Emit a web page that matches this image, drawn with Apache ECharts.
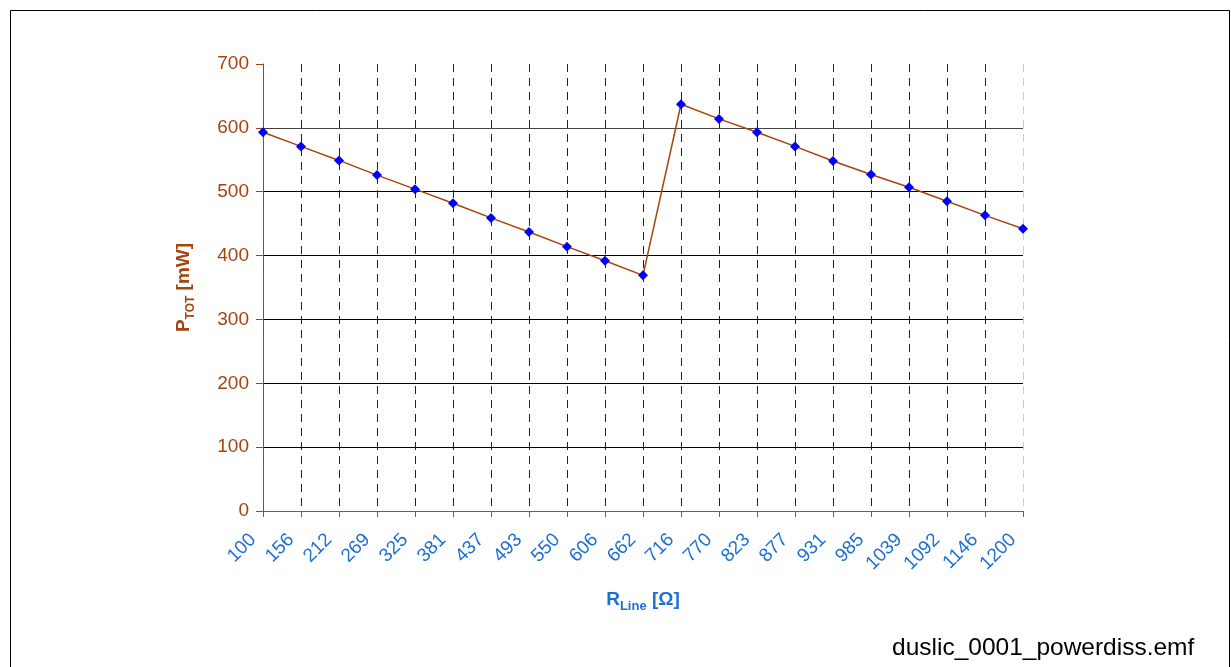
<!DOCTYPE html>
<html><head><meta charset="utf-8">
<script src="https://cdn.jsdelivr.net/npm/echarts@6/dist/echarts.min.js"></script>
<style>html,body{margin:0;padding:0;background:#fff}#c{width:1231px;height:667px}</style>
</head><body><div id="c"></div>
<script>
const categories = ['100','156','212','269','325','381','437','493','550','606','662','716','770','823','877','931','985','1039','1092','1146','1200'];
const ptot = [593,571,549,526,504,482,459,437,414,392,369,637,614,593,571,548,527,507,485,463,442];
const yTicks = [0,100,200,300,400,500,600,700];

const brown = '#A5440F';
const blue = '#1C6FD3';
const vColors = categories.map((c,i)=> i===categories.length-1 ? '#cccccc' : '#222');
const hColors = yTicks.map(v => v===700 ? 'rgba(0,0,0,0)' : (v===600 ? '#444' : '#000'));

const chart = echarts.init(document.getElementById('c'), null, {renderer:'canvas'});
chart.setOption({
  animation:false,
  backgroundColor:'#fff',
  textStyle:{fontFamily:'Liberation Sans, Arial, sans-serif'},
  graphic:[
    {type:'rect', shape:{x:10.5,y:10.5,width:1219,height:680}, style:{fill:'none',stroke:'#000',lineWidth:1}, silent:true},
    {type:'text', left:892, top:636, style:{text:'duslic_0001_powerdiss.emf', fill:'#000', font:'24.5px "Liberation Sans", Arial, sans-serif'}}
  ],
  grid:{left:263,right:208,top:64,bottom:156,containLabel:false},
  xAxis:{
    type:'category', data:categories, boundaryGap:false,
    axisLine:{lineStyle:{color:blue,width:1}},
    axisTick:{show:true,length:6,lineStyle:{color:blue}},
    axisLabel:{rotate:45,color:blue,fontSize:19,margin:16,padding:[0,14,0,0],interval:0},
    splitLine:{show:true,interval:0,lineStyle:{color:vColors,type:[8,6],width:1}},
    name:'{a|R}{b|Line}{a| [Ω]}', nameLocation:'middle', nameGap:76,
    nameTextStyle:{rich:{
      a:{fontSize:19,fontWeight:'bold',color:blue,verticalAlign:'bottom',lineHeight:22},
      b:{fontSize:13,fontWeight:'bold',color:blue,verticalAlign:'bottom',lineHeight:16,padding:[0,0,-4,0]}
    }}
  },
  yAxis:{
    type:'value', min:0, max:700, interval:100,
    axisLine:{show:true,lineStyle:{color:brown,width:1}},
    axisTick:{show:true,length:7,lineStyle:{color:brown}},
    axisLabel:{color:brown,fontSize:19,margin:14},
    splitLine:{show:true,lineStyle:{color:hColors,width:1}},
    name:'{a|P}{b|TOT}{a| [mW]}', nameLocation:'middle', nameGap:70, nameRotate:90,
    nameTextStyle:{rich:{
      a:{fontSize:19,fontWeight:'bold',color:brown,verticalAlign:'bottom',lineHeight:22},
      b:{fontSize:12,fontWeight:'bold',color:brown,verticalAlign:'bottom',lineHeight:16,padding:[0,0,-4,0]}
    }}
  },
  series:[{
    type:'line', data:ptot,
    lineStyle:{color:brown,width:1.5},
    symbol:'diamond', symbolSize:10,
    itemStyle:{color:'#0000FF'},
    z:5
  }]
});
</script></body></html>
